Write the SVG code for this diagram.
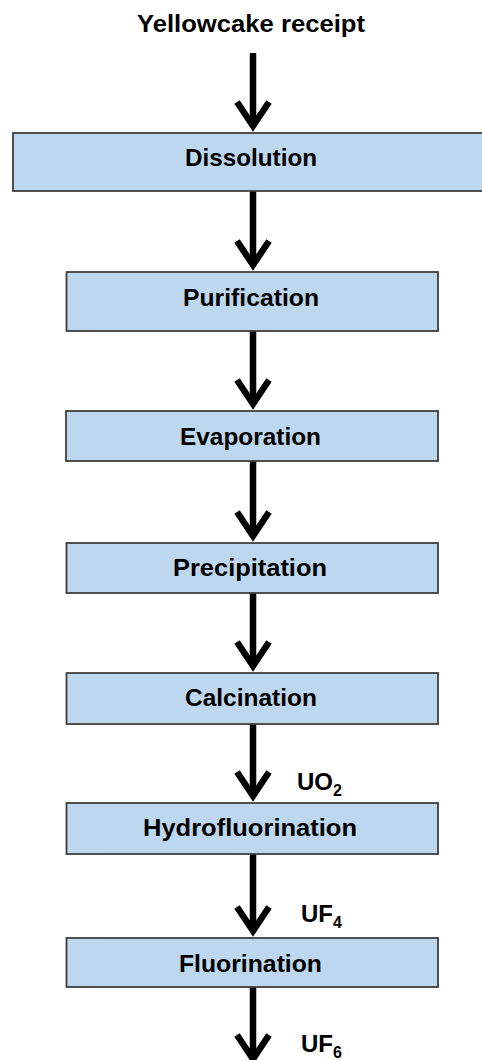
<svg xmlns="http://www.w3.org/2000/svg" xmlns:xlink="http://www.w3.org/1999/xlink" width="482" height="1060" viewBox="0 0 482 1060">
<style>
.box{fill:#BDD7EE;stroke:#3F3F3F;stroke-width:1.8}
.t{font-family:"Liberation Sans",Arial,sans-serif;font-weight:bold;font-size:24.5px;fill:#000;text-anchor:middle}
.l{font-family:"Liberation Sans",Arial,sans-serif;font-weight:bold;font-size:24px;fill:#000}
.sub{font-size:16px}
.shaft{stroke:#000;stroke-width:6.5;fill:none}
.head{stroke:#000;stroke-width:6.5;fill:none;stroke-linejoin:miter}
</style>
<defs>
<path id="hd" class="head" d="M-16,-31 L0,-7 L16,-31"/>
</defs>
<rect width="482" height="1060" fill="#fff"/>
<g id="connectors">
<line class="shaft" x1="253" y1="53" x2="253" y2="126"/><use xlink:href="#hd" transform="translate(253,133)"/>
<line class="shaft" x1="253" y1="191" x2="253" y2="265"/><use xlink:href="#hd" transform="translate(253,272)"/>
<line class="shaft" x1="253" y1="331" x2="253" y2="404"/><use xlink:href="#hd" transform="translate(253,411)"/>
<line class="shaft" x1="253" y1="461" x2="253" y2="536"/><use xlink:href="#hd" transform="translate(253,543)"/>
<line class="shaft" x1="253" y1="593" x2="253" y2="666"/><use xlink:href="#hd" transform="translate(253,673)"/>
<line class="shaft" x1="253" y1="724" x2="253" y2="796"/><use xlink:href="#hd" transform="translate(253,803)"/>
<line class="shaft" x1="253" y1="854" x2="253" y2="931"/><use xlink:href="#hd" transform="translate(253,938)"/>
<line class="shaft" x1="253" y1="987" x2="253" y2="1060"/><use xlink:href="#hd" transform="translate(253,1066)"/>
</g>
<g id="start"><text class="t" x="251" y="32" textLength="228" lengthAdjust="spacingAndGlyphs">Yellowcake receipt</text></g>
<g id="dissolution"><rect class="box" x="13" y="133" width="480" height="58"/><text class="t" x="251" y="166" textLength="132" lengthAdjust="spacingAndGlyphs">Dissolution</text></g>
<g id="purification"><rect class="box" x="66.5" y="272" width="371.5" height="59"/><text class="t" x="251" y="306" textLength="136" lengthAdjust="spacingAndGlyphs">Purification</text></g>
<g id="evaporation"><rect class="box" x="66" y="411" width="372" height="50"/><text class="t" x="250.5" y="445" textLength="141" lengthAdjust="spacingAndGlyphs">Evaporation</text></g>
<g id="precipitation"><rect class="box" x="66.5" y="543" width="371.5" height="50"/><text class="t" x="250" y="576" textLength="154" lengthAdjust="spacingAndGlyphs">Precipitation</text></g>
<g id="calcination"><rect class="box" x="66.5" y="673" width="371.5" height="51"/><text class="t" x="251" y="706" textLength="132" lengthAdjust="spacingAndGlyphs">Calcination</text></g>
<g id="hydrofluorination"><rect class="box" x="66.5" y="803" width="371.5" height="51"/><text class="t" x="250" y="836" textLength="214" lengthAdjust="spacingAndGlyphs">Hydrofluorination</text></g>
<g id="fluorination"><rect class="box" x="66.5" y="938" width="371.5" height="49"/><text class="t" x="250.5" y="972" textLength="143" lengthAdjust="spacingAndGlyphs">Fluorination</text></g>
<g id="labels">
<text class="l" x="297" y="790">UO<tspan class="sub" dy="6">2</tspan></text>
<text class="l" x="301" y="922">UF<tspan class="sub" dy="6">4</tspan></text>
<text class="l" x="301" y="1052">UF<tspan class="sub" dy="6">6</tspan></text>
</g>
</svg>
